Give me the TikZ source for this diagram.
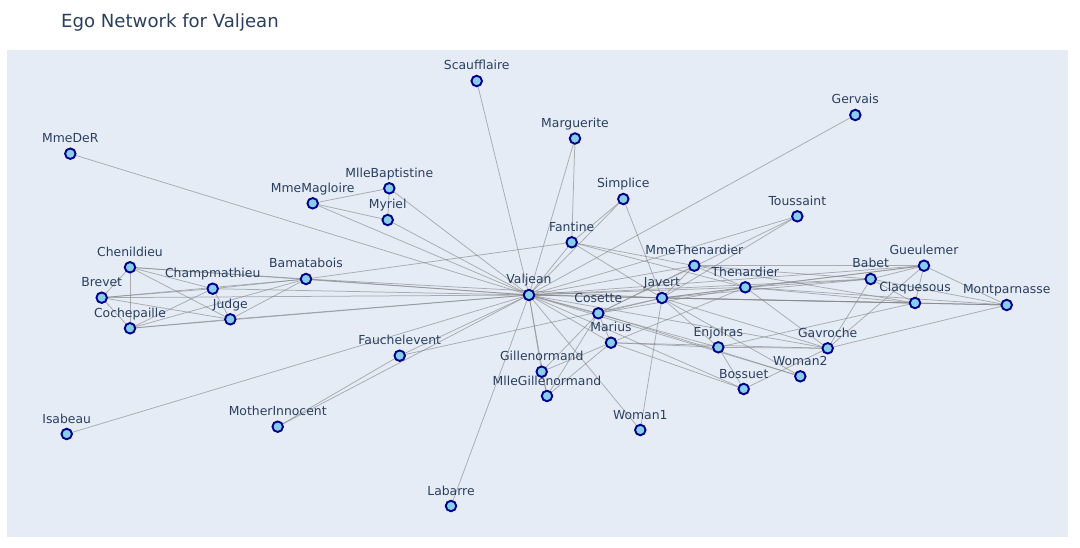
\documentclass[tikz,border=0pt]{standalone}
\usepackage{fontspec}
\setmainfont{DejaVu Sans}
\definecolor{plotbg}{HTML}{E5ECF6}
\definecolor{txt}{HTML}{2A3F5F}
\definecolor{nfill}{HTML}{87CEEB}
\definecolor{nborder}{HTML}{00008B}
\definecolor{edgec}{HTML}{888888}
\pgfdeclarelayer{back}
\pgfdeclarelayer{edges}
\pgfsetlayers{back,edges,main}
\tikzset{
  vnode/.style={circle, fill=nfill, draw=nborder, line width=1.9pt, minimum size=10.5pt, inner sep=0pt},
  lab/.style={anchor=base, text=txt, font=\fontsize{12.4}{14}\selectfont, inner sep=0pt},
  edge/.style={draw=edgec, line width=0.75pt, opacity=0.65},
}
\begin{document}
\begin{tikzpicture}[x=1pt,y=-1pt]
\useasboundingbox (0,0) rectangle (1080,548);
\begin{pgfonlayer}{back}
\fill[plotbg] (7,50) rectangle (1068,537);
\end{pgfonlayer}
\node[anchor=base west, text=txt, font=\fontsize{18.1}{21}\selectfont, inner sep=0pt] (title) at (61,28) {Ego Network for Valjean};
\foreach \n/\x/\y in {
  Valjean/529/295, Labarre/451/506, MmeMagloire/312.7/203.3, MlleBaptistine/389.3/188.3,
  Myriel/387.7/220, Marguerite/575/138.5, MmeDeR/70.3/153.7, Isabeau/66.7/434,
  Gervais/855.3/115, Fantine/571.7/242.3, MmeThenardier/694.3/265.7, Thenardier/745.3/287.3,
  Cosette/598.3/313.3, Javert/662/298, Fauchelevent/399.7/355.7, Bamatabois/306/279,
  Simplice/623.3/199, Scaufflaire/476.7/81, Woman1/640.3/430, Judge/230.3/319.3,
  Champmathieu/212.7/288.7, Brevet/101.7/297.7, Chenildieu/130/267.3, Cochepaille/130/328.3,
  Woman2/800.3/376.3, MotherInnocent/277.7/426.7, Gavroche/827.7/348.3, Gillenormand/541.7/371.7,
  MlleGillenormand/547/396, Marius/611/342.7, Enjolras/718.3/347.3, Bossuet/743.7/389,
  Gueulemer/924/265.7, Babet/870.7/279, Claquesous/915/303, Montparnasse/1006.7/305,
  Toussaint/797.3/216.3}
{
  \node[vnode] (\n) at (\x,\y) {};
  \node[lab] (\n-lab) at (\x,\y-11) {\n};
}
\begin{pgfonlayer}{edges}
\foreach \b in {Labarre, MmeMagloire, MlleBaptistine, Myriel, Marguerite, MmeDeR, Isabeau,
  Gervais, Fantine, MmeThenardier, Thenardier, Cosette, Javert, Fauchelevent, Bamatabois,
  Simplice, Scaufflaire, Woman1, Judge, Champmathieu, Brevet, Chenildieu, Cochepaille,
  Woman2, MotherInnocent, Gavroche, Gillenormand, MlleGillenormand, Marius, Enjolras,
  Bossuet, Gueulemer, Babet, Claquesous, Montparnasse, Toussaint}
  \draw[edge] (Valjean.center) -- (\b.center);
\foreach \a/\b in {
  Myriel/MlleBaptistine, Myriel/MmeMagloire, MmeMagloire/MlleBaptistine,
  Fantine/Marguerite, MmeThenardier/Fantine, Thenardier/MmeThenardier, Thenardier/Fantine,
  Cosette/MmeThenardier, Cosette/Thenardier,
  Javert/Fantine, Javert/Thenardier, Javert/MmeThenardier, Javert/Cosette,
  Fauchelevent/Javert, Bamatabois/Fantine, Bamatabois/Javert,
  Simplice/Fantine, Simplice/Javert, Woman1/Javert, Judge/Bamatabois,
  Champmathieu/Judge, Champmathieu/Bamatabois,
  Brevet/Judge, Brevet/Champmathieu, Brevet/Bamatabois,
  Chenildieu/Judge, Chenildieu/Champmathieu, Chenildieu/Brevet, Chenildieu/Bamatabois,
  Cochepaille/Judge, Cochepaille/Champmathieu, Cochepaille/Brevet, Cochepaille/Chenildieu, Cochepaille/Bamatabois,
  Woman2/Cosette, Woman2/Javert, MotherInnocent/Fauchelevent,
  Gavroche/Thenardier, Gavroche/Javert, Gillenormand/Cosette,
  MlleGillenormand/Gillenormand, MlleGillenormand/Cosette,
  Marius/MlleGillenormand, Marius/Gillenormand, Marius/Cosette, Marius/Thenardier, Marius/Gavroche,
  Enjolras/Marius, Enjolras/Gavroche, Enjolras/Javert,
  Bossuet/Marius, Bossuet/Gavroche, Bossuet/Enjolras,
  Gueulemer/Thenardier, Gueulemer/MmeThenardier, Gueulemer/Javert, Gueulemer/Gavroche,
  Babet/Thenardier, Babet/Gueulemer, Babet/MmeThenardier, Babet/Javert, Babet/Gavroche,
  Claquesous/Thenardier, Claquesous/Babet, Claquesous/Gueulemer, Claquesous/MmeThenardier, Claquesous/Javert, Claquesous/Enjolras,
  Montparnasse/Javert, Montparnasse/Babet, Montparnasse/Gueulemer, Montparnasse/Claquesous, Montparnasse/Gavroche, Montparnasse/Thenardier,
  Toussaint/Cosette, Toussaint/Javert}
  \draw[edge] (\a.center) -- (\b.center);
\end{pgfonlayer}
\end{tikzpicture}
\end{document}
